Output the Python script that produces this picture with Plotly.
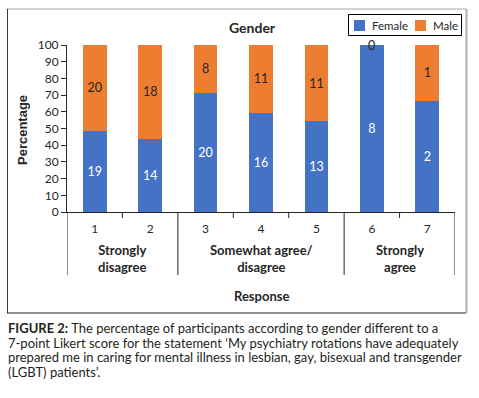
import plotly.graph_objects as go

# ---- data ----
responses = [1, 2, 3, 4, 5, 6, 7]
female_pct = [48.7, 43.8, 71.4, 59.3, 54.2, 100.0, 66.7]
male_pct = [51.3, 56.2, 28.6, 40.7, 45.8, 0.0, 33.3]
female_n = [19, 14, 20, 16, 13, 8, 2]
male_n = [20, 18, 8, 11, 11, 0, 1]
group_names = ["Strongly<br>disagree", "Somewhat agree/<br>disagree", "Strongly<br>agree"]
group_sizes = [2, 3, 2]
y_ticks = list(range(0, 101, 10))

BLUE = "#4472C4"
ORANGE = "#ED7D31"
FONT = "Lato"
AX = "#262626"

W, H = 479, 398
L, R, T, B = 67, 24, 45, 186
PW, PH = W - L - R, H - T - B


def px(x):
    return (x - L) / PW


def py(y):
    return (H - B - y) / PH


fig = go.Figure()
fig.add_trace(go.Bar(
    x=responses, y=female_pct, name="Female", marker=dict(color=BLUE, line=dict(width=0)),
    text=[str(v) for v in female_n], textposition="inside", insidetextanchor="middle",
    textfont=dict(color="white", size=12.5, family=FONT), width=0.43, cliponaxis=False,
))
fig.add_trace(go.Bar(
    x=responses, y=male_pct, name="Male", marker=dict(color=ORANGE, line=dict(width=0)),
    text=[str(v) if p > 0 else "" for v, p in zip(male_n, male_pct)], textposition="inside",
    insidetextanchor="middle",
    textfont=dict(color=AX, size=12.5, family=FONT), width=0.43, cliponaxis=False,
))

annotations = []
shapes = []
# zero-height labels
for r, f, m, n in zip(responses, female_pct, male_pct, male_n):
    if m == 0:
        annotations.append(dict(x=r, y=f + m / 2, xref="x", yref="y", text=str(n), showarrow=False,
                                font=dict(size=12.5, family=FONT, color=AX), xanchor="center", yanchor="middle"))

# group dividers, labels, inner ticks
start = responses[0] - 0.5
boundaries = [start]
for name, size in zip(group_names, group_sizes):
    end = start + size
    boundaries.append(end)
    annotations.append(dict(x=(start + end) / 2, y=py(258.5), xref="x", yref="paper",
                            text="<b>" + name + "</b>", showarrow=False,
                            font=dict(size=13, family=FONT, color=AX), xanchor="center", yanchor="middle"))
    for k in range(1, size):
        shapes.append(dict(type="line", xref="x", yref="paper", x0=start + k, x1=start + k,
                           y0=0, y1=py(218), line=dict(color=AX, width=1)))
    start = end
for bnd in boundaries:
    shapes.append(dict(type="line", xref="x", yref="paper", x0=bnd, x1=bnd,
                       y0=0, y1=py(275), line=dict(color=AX, width=1)))

# outer frame: light top/right, dark left/bottom
shapes.append(dict(type="line", xref="paper", yref="paper", x0=px(7), x1=px(466.5), y0=py(9), y1=py(9),
                   line=dict(color="#c4c4c4", width=1.5)))
shapes.append(dict(type="line", xref="paper", yref="paper", x0=px(466.5), x1=px(466.5), y0=py(9), y1=py(313),
                   line=dict(color="#b0b0b0", width=2)))
shapes.append(dict(type="line", xref="paper", yref="paper", x0=px(7.5), x1=px(7.5), y0=py(9), y1=py(313),
                   line=dict(color="#3a3a3a", width=1)))
shapes.append(dict(type="line", xref="paper", yref="paper", x0=px(7), x1=px(466), y0=py(313), y1=py(313),
                   line=dict(color="#231f20", width=1.2)))

# legend (box, swatches, names from the traces)
shapes.append(dict(type="rect", xref="paper", yref="paper", x0=px(348.5), x1=px(461.5), y0=py(35.5), y1=py(14.5),
                   line=dict(color="black", width=1)))
legend_x = [354, 415]
for lx, tr in zip(legend_x, fig.data):
    shapes.append(dict(type="rect", xref="paper", yref="paper", x0=px(lx), x1=px(lx + 11),
                       y0=py(31), y1=py(20), fillcolor=tr.marker.color, line=dict(width=0)))
    annotations.append(dict(x=px(lx + 16), y=py(25.5), xref="paper", yref="paper", text=tr.name,
                            showarrow=False, xanchor="left", yanchor="middle",
                            font=dict(size=11.5, family=FONT, color=AX)))

# titles
annotations.append(dict(x=px(252), y=py(28), xref="paper", yref="paper", text="<b>Gender</b>",
                        xanchor="center", yanchor="middle",
                        showarrow=False, font=dict(size=14, family=FONT, color=AX)))
annotations.append(dict(x=px(261), y=py(296), xref="paper", yref="paper", text="<b>Response</b>",
                        xanchor="center", yanchor="middle",
                        showarrow=False, font=dict(size=13, family=FONT, color=AX)))
annotations.append(dict(x=px(22), y=py(130), xref="paper", yref="paper", text="<b>Percentage</b>",
                        xanchor="center", yanchor="middle",
                        textangle=-90, showarrow=False, font=dict(size=13, family="Liberation Sans", color=AX)))

caption = [
    "<b>FIGURE 2:</b> The percentage of participants according to gender different to a",
    "7-point Likert score for the statement ‘My psychiatry rotations have adequately",
    "prepared me in caring for mental illness in lesbian, gay, bisexual and transgender",
    "(LGBT) patients’.",
]
for i, line in enumerate(caption):
    annotations.append(dict(x=px(7), y=py(328 + 14.6 * i), xref="paper", yref="paper", text=line,
                            showarrow=False, xanchor="left", yanchor="middle", align="left",
                            height=14, borderpad=0,
                            font=dict(size=13, family=FONT, color="#231f20")))

fig.update_layout(
    width=W, height=H, margin=dict(l=L, r=R, t=T, b=B, pad=0, autoexpand=False),
    barmode="stack", plot_bgcolor="white", paper_bgcolor="white",
    font=dict(family=FONT, color=AX),
    showlegend=False,
    xaxis=dict(range=[responses[0] - 0.5, responses[-1] + 0.5], tickmode="array", tickvals=responses,
               ticktext=[str(r) for r in responses], ticks="", showline=True, linecolor=AX, linewidth=1,
               showgrid=False, zeroline=False, tickfont=dict(size=12, family=FONT, color=AX),
               ticklabelstandoff=6, fixedrange=True),
    yaxis=dict(range=[0, 100], tickmode="array", tickvals=y_ticks, ticks="outside", ticklen=5,
               tickcolor=AX, showline=True, linecolor=AX, linewidth=1, showgrid=False, zeroline=False,
               tickfont=dict(size=12, family=FONT, color=AX)),
    annotations=annotations, shapes=shapes,
)

fig.write_html("out.html", config={"displayModeBar": False},
               post_script="document.body.style.margin='0';document.body.style.padding='0';")
